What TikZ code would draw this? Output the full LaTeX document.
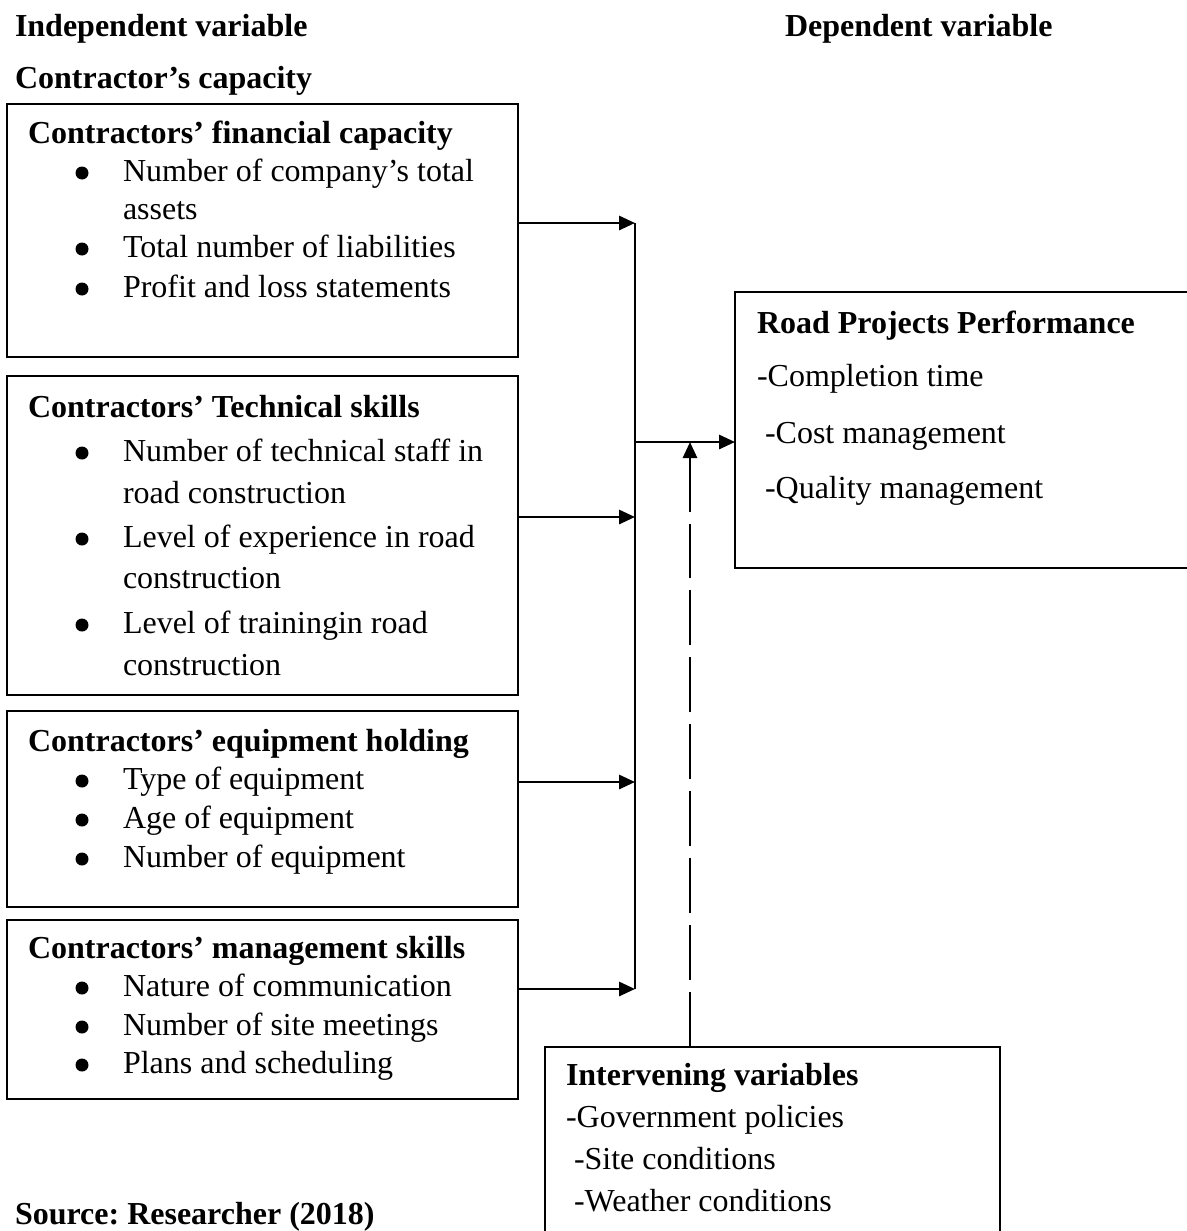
\documentclass[tikz,border=0pt]{standalone}
\usepackage{fontspec}
\setmainfont{Liberation Serif}
\usetikzlibrary{arrows.meta,fit}
\frenchspacing
\begin{document}
\begin{tikzpicture}[x=0.375pt,y=-0.375pt,
  every node/.style={font=\fontsize{12}{14}\selectfont},
  txt/.style={anchor=base west,inner sep=0pt,outer sep=0pt},
  hd/.style={txt,font=\fontsize{12}{14}\selectfont\bfseries},
  box/.style={draw,line width=0.75pt,inner sep=0pt,outer sep=0pt},
  arr/.style={line width=1pt,-{Triangle[length=6pt,width=5.3pt]}},
  bus/.style={line width=0.85pt},
  dsh/.style={line width=0.9pt,dash pattern=on 20.6pt off 4.5pt,-{Triangle[length=6pt,width=5.3pt]}},
  bul/.style={fill=black}]
\useasboundingbox (0,0) rectangle (1187,1231);
\clip (0,0) rectangle (1187,1231);

% headers
\node[hd] (indep) at (15,36) {Independent variable};
\node[hd] (dep) at (785,36) {Dependent variable};
\node[hd] (cap) at (15,88) {Contractor’s capacity};
\node[hd] (src) at (15,1224) {Source: Researcher (2018)};

% boxes
\node[box,fit={(7,104) (518,357)}] (b1) {};
\node[box,fit={(7,376) (518,695)}] (b2) {};
\node[box,fit={(7,711) (518,907)}] (b3) {};
\node[box,fit={(7,920) (518,1099)}] (b4) {};
\node[box,fit={(735,292) (1196,568)}] (rp) {};
\node[box,fit={(545,1047) (1000,1245)}] (iv) {};

% box 1
\node[hd] (b1h) at (28,143) {Contractors’ financial capacity};
\node[txt] (b1a) at (123,181) {Number of company’s total};
\node[txt] (b1b) at (123,219) {assets};
\node[txt] (b1c) at (123,257) {Total number of liabilities};
\node[txt] (b1d) at (123,297) {Profit and loss statements};
\fill[bul] (82,173) circle (6.5);
\fill[bul] (82,249) circle (6.5);
\fill[bul] (82,289) circle (6.5);

% box 2
\node[hd] (b2h) at (28,417) {Contractors’ Technical skills};
\node[txt] (b2a) at (123,461) {Number of technical staff in};
\node[txt] (b2b) at (123,503) {road construction};
\node[txt] (b2c) at (123,547) {Level of experience in road};
\node[txt] (b2d) at (123,588) {construction};
\node[txt] (b2e) at (123,633) {Level of trainingin road};
\node[txt] (b2f) at (123,675) {construction};
\fill[bul] (82,453) circle (6.5);
\fill[bul] (82,539) circle (6.5);
\fill[bul] (82,625) circle (6.5);

% box 3
\node[hd] (b3h) at (28,751) {Contractors’ equipment holding};
\node[txt] (b3a) at (123,789) {Type of equipment};
\node[txt] (b3b) at (123,828) {Age of equipment};
\node[txt] (b3c) at (123,867) {Number of equipment};
\fill[bul] (82,781) circle (6.5);
\fill[bul] (82,820) circle (6.5);
\fill[bul] (82,859) circle (6.5);

% box 4
\node[hd] (b4h) at (28,958) {Contractors’ management skills};
\node[txt] (b4a) at (123,996) {Nature of communication};
\node[txt] (b4b) at (123,1035) {Number of site meetings};
\node[txt] (b4c) at (123,1073) {Plans and scheduling};
\fill[bul] (82,988) circle (6.5);
\fill[bul] (82,1027) circle (6.5);
\fill[bul] (82,1065) circle (6.5);

% road projects box
\node[hd] (rph) at (757,333) {Road Projects Performance};
\node[txt] (rpa) at (757,386) {-Completion time};
\node[txt] (rpb) at (765,443) {-Cost management};
\node[txt] (rpc) at (765,498) {-Quality management};

% intervening box
\node[hd] (ivh) at (566,1085) {Intervening variables};
\node[txt] (iva) at (566,1127) {-Government policies};
\node[txt] (ivb) at (574,1169) {-Site conditions};
\node[txt] (ivc) at (574,1211) {-Weather conditions};

% connectors
\coordinate (j1) at (635,223);
\coordinate (j2) at (635,517);
\coordinate (j3) at (635,782);
\coordinate (j4) at (635,989);
\coordinate (jm) at (635,442);
\coordinate (dt) at (690,442);
\draw[arr] (j1 -| b1.east) -- (j1);
\draw[arr] (j2 -| b2.east) -- (j2);
\draw[arr] (j3 -| b3.east) -- (j3);
\draw[arr] (j4 -| b4.east) -- (j4);
\draw[bus] (j1) -- (j4);
\draw[arr] (jm) -- (jm -| rp.west);
\draw[dsh] (dt |- iv.north) -- (dt);
\end{tikzpicture}
\end{document}
